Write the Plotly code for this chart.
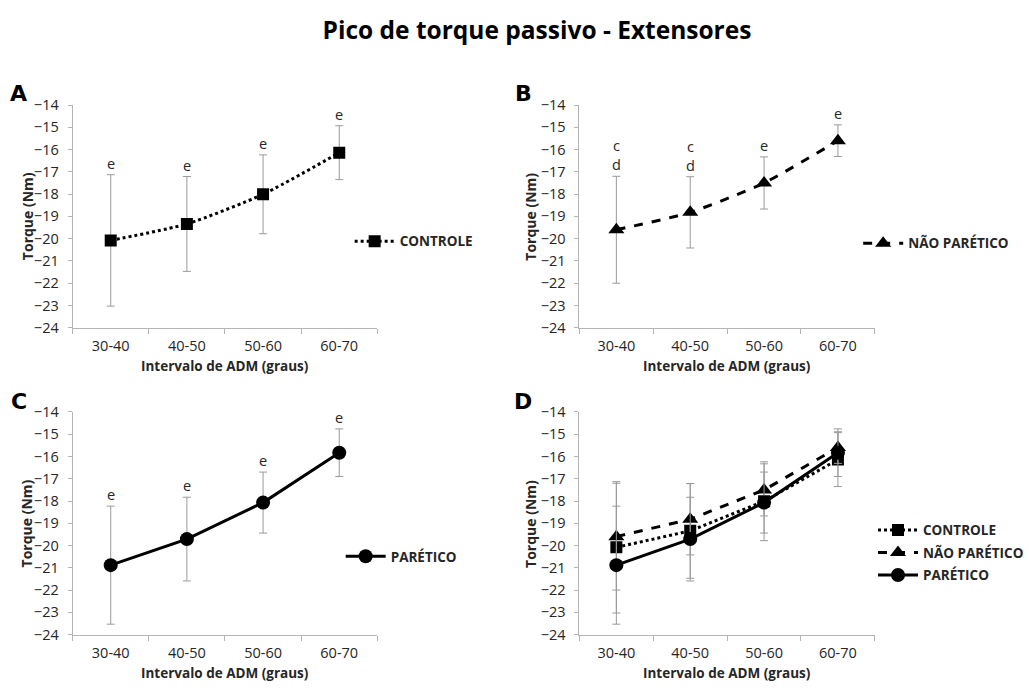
import plotly.graph_objects as go

# ---------------- data ----------------
categorias = ["30-40", "40-50", "50-60", "60-70"]
controle_media = [-20.08, -19.34, -18.01, -16.14]
controle_dp = [2.95, 2.13, 1.77, 1.21]
nao_paretico_media = [-19.60, -18.82, -17.50, -15.60]
nao_paretico_dp = [2.40, 1.60, 1.17, 0.71]
paretico_media = [-20.88, -19.71, -18.07, -15.83]
paretico_dp = [2.65, 1.88, 1.37, 1.07]
letras_A = ["e", "e", "e", "e"]
letras_B = ["c<br>d", "c<br>d", "e", "e"]
letras_C = ["e", "e", "e", "e"]
y_ticks = list(range(-24, -13))
titulo = "Pico de torque passivo - Extensores"
# --------------------------------------

W, H = 1029, 691
FONT = "Open Sans"
TXT = "#262626"
AXC = "#b4b4b4"
ERRC = "#9a9a9a"
xpos = list(range(len(categorias)))

fig = go.Figure()

def px_x(p):
    return p / W

def px_y(p):
    return 1 - p / H

def add_series(media, dp, name, dash, symbol, size, ax, legend, shape="linear", group=None):
    fig.add_trace(go.Scatter(
        x=xpos, y=media, name=name, mode="lines+markers",
        line=dict(color="black", width=3, dash=dash, shape=shape, smoothing=0.6),
        marker=dict(symbol=symbol, size=size, color="black"),
        error_y=dict(type="data", array=dp, visible=True, color=ERRC, thickness=1, width=4),
        xaxis="x" + ax, yaxis="y" + ax, legend=legend,
        legendgroup=group or name, showlegend=True,
    ))

add_series(controle_media, controle_dp, "CONTROLE", "dot", "square", 12, "", "legend", "spline")
add_series(nao_paretico_media, nao_paretico_dp, "NÃO PARÉTICO", "dash", "triangle-up", 14, "2", "legend2", "spline")
add_series(paretico_media, paretico_dp, "PARÉTICO", "solid", "circle", 14, "3", "legend3")
add_series(controle_media, controle_dp, "CONTROLE", "dot", "square", 12, "4", "legend4", group="g1")
add_series(nao_paretico_media, nao_paretico_dp, "NÃO PARÉTICO", "dash", "triangle-up", 14, "4", "legend4", group="g2")
add_series(paretico_media, paretico_dp, "PARÉTICO", "solid", "circle", 14, "4", "legend4", group="g3")

xdomL = [px_x(72.7), px_x(377.7)]
xdomR = [px_x(580), px_x(875.7)]
ydomT = [px_y(326.7), px_y(97.7)]
ydomB = [px_y(642.3), px_y(413.3)]

def xaxis(dom, anchor):
    return dict(domain=dom, anchor=anchor, range=[-0.5, len(categorias) - 0.5],
                tickvals=xpos, ticktext=categorias, ticks="outside", ticklen=5,
                tickcolor="rgba(0,0,0,0)", showline=True, linecolor=AXC, linewidth=1,
                showgrid=False, zeroline=False,
                tickfont=dict(family=FONT, size=14.5, color=TXT),
                minor=dict(tickvals=[i - 0.5 for i in range(len(categorias) + 1)],
                           ticks="outside", ticklen=5, tickcolor=AXC, showgrid=False))

def yaxis(dom, anchor):
    return dict(domain=dom, anchor=anchor, range=[-24, -14], tickvals=y_ticks,
                ticks="outside", ticklen=4, tickcolor=AXC, showline=True, linecolor=AXC,
                linewidth=1, showgrid=False, zeroline=False, ticklabelstandoff=6,
                tickfont=dict(family=FONT, size=14.5, color=TXT))

legfont = dict(family=FONT, size=13.5, color=TXT, weight="bold")
legbase = dict(xanchor="left", yanchor="middle", font=legfont, bgcolor="rgba(0,0,0,0)",
               itemwidth=40, borderwidth=0)

fig.update_layout(
    width=W, height=H, margin=dict(l=0, r=0, t=0, b=0),
    paper_bgcolor="white", plot_bgcolor="white",
    title=dict(text="<b>" + titulo + "</b>", x=px_x(537), y=px_y(30),
               xanchor="center", yanchor="middle",
               font=dict(family=FONT, size=24.5, color="black")),
    xaxis=xaxis(xdomL, "y"), yaxis=yaxis(ydomT, "x"),
    xaxis2=xaxis(xdomR, "y2"), yaxis2=yaxis(ydomT, "x2"),
    xaxis3=xaxis(xdomL, "y3"), yaxis3=yaxis(ydomB, "x3"),
    xaxis4=xaxis(xdomR, "y4"), yaxis4=yaxis(ydomB, "x4"),
    legend=dict(x=px_x(350), y=px_y(238), **legbase),
    legend2=dict(x=px_x(859), y=px_y(240), **legbase),
    legend3=dict(x=px_x(341), y=px_y(562), **legbase),
    legend4=dict(x=px_x(874), y=px_y(558), tracegroupgap=2, **legbase),
    showlegend=True,
)

ann = []
# panel letters
for letra, (lx, ly) in zip("ABCD", [(19, 86), (524, 86), (19, 403), (524, 403)]):
    ann.append(dict(text="<b>" + letra + "</b>", x=px_x(lx), y=px_y(ly), xref="paper", yref="paper",
                    showarrow=False, xanchor="center", yanchor="middle",
                    font=dict(family="DejaVu Sans", size=22, color="black")))
# axis titles
for (tx, ty) in [(27, 212), (531, 212), (27, 528), (531, 528)]:
    ann.append(dict(text="<b>Torque (Nm)</b>", x=px_x(tx), y=px_y(ty), xref="paper", yref="paper",
                    showarrow=False, textangle=-90, xanchor="center", yanchor="middle",
                    font=dict(family=FONT, size=14, color=TXT)))
for (tx, ty) in [(225, 366), (728, 366), (225, 682), (728, 682)]:
    ann.append(dict(text="<b>Intervalo de ADM (graus)</b>", x=px_x(tx), y=px_y(ty), xref="paper",
                    yref="paper", showarrow=False, xanchor="center", yanchor="middle",
                    font=dict(family=FONT, size=13.5, color=TXT)))
# significance letters
for letras, media, dp, ax in [(letras_A, controle_media, controle_dp, ""),
                              (letras_B, nao_paretico_media, nao_paretico_dp, "2"),
                              (letras_C, paretico_media, paretico_dp, "3")]:
    for i, t in enumerate(letras):
        ann.append(dict(text=t, x=xpos[i], y=media[i] + dp[i], xref="x" + ax, yref="y" + ax,
                        showarrow=False, xanchor="center", yanchor="bottom", yshift=0,
                        font=dict(family=FONT, size=14.5, color=TXT)))
fig.update_layout(annotations=ann)

fig.write_html("out.html")
